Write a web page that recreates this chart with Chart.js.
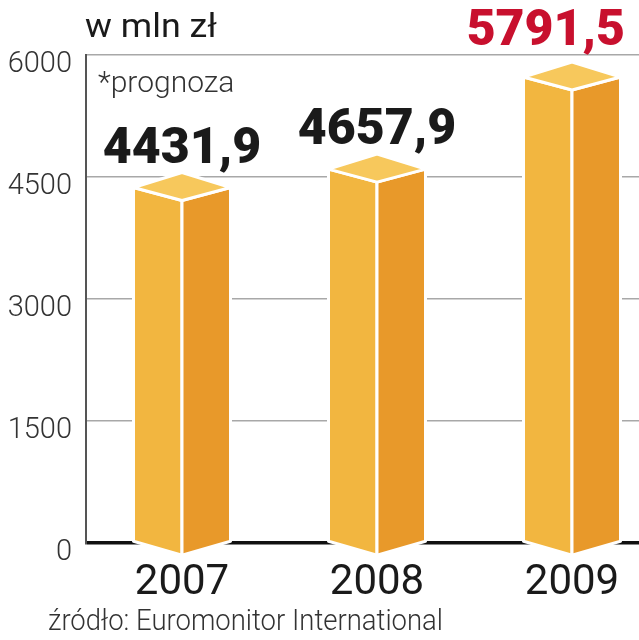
<!DOCTYPE html>
<html>
<head>
<meta charset="utf-8">
<script src="https://cdn.jsdelivr.net/npm/chart.js@4.4.1/dist/chart.umd.min.js"></script>
<style>
  html, body { margin: 0; padding: 0; background: #fff; }
  #wrap { width: 639px; height: 640px; }
</style>
</head>
<body>
<div id="wrap"><canvas id="chart"></canvas></div>
<script>
const years = ["2007", "2008", "2009"]
const values = [4431.9, 4657.9, 5791.5]
const valueLabels = ["4431,9", "4657,9", "5791,5"]
const isForecast = [false, false, true]
const yTicks = [0, 1500, 3000, 4500, 6000]

const unitText = "w mln zł"
const noteText = "*prognoza"
const sourceText = "źródło: Euromonitor International"

const FRONT = "#f2b640"
const SIDE = "#e8992a"
const TOP = "#f7c85c"
const INK = "#1a1a1a"
const RED = "#c8102e"

function poly(ctx, pts, fill) {
  ctx.beginPath()
  ctx.moveTo(pts[0][0], pts[0][1])
  for (let i = 1; i < pts.length; i++) ctx.lineTo(pts[i][0], pts[i][1])
  ctx.closePath()
  ctx.fillStyle = fill
  ctx.fill()
  ctx.stroke()
}

// squeeze or stretch a line of text to a given width
function fitText(ctx, txt, x, y, width) {
  const w = ctx.measureText(txt).width
  ctx.save()
  ctx.translate(x, y)
  ctx.scale(width / w, 1)
  ctx.fillText(txt, 0, 0)
  ctx.restore()
}

// draws every bar as a little prism, standing on its edge
const prismBars = {
  id: "prismBars",
  afterDatasetsDraw(chart) {
    const ctx = chart.ctx
    const meta = chart.getDatasetMeta(0)
    ctx.save()
    ctx.strokeStyle = "#fff"
    ctx.lineWidth = 3
    ctx.lineJoin = "round"
    meta.data.forEach((bar) => {
      const { x, y, base, width } = bar.getProps(["x", "y", "base", "width"], true)
      const h = width / 2
      poly(ctx, [[x - h, y + 5], [x, y + 18], [x, base + 14], [x - h, base]], FRONT)
      poly(ctx, [[x, y + 18], [x + h, y + 5], [x + h, base], [x, base + 14]], SIDE)
      poly(ctx, [[x - h, y + 5], [x, y - 10], [x + h, y + 5], [x, y + 18]], TOP)
    })
    ctx.restore()
  },
}

const texts = {
  id: "texts",
  afterDraw(chart) {
    const ctx = chart.ctx
    const area = chart.chartArea
    const meta = chart.getDatasetMeta(0)
    ctx.save()

    ctx.textBaseline = "alphabetic"
    ctx.textAlign = "center"
    ctx.font = "900 50px Roboto"
    meta.data.forEach((bar, i) => {
      const txt = valueLabels[i]
      const w = ctx.measureText(txt).width
      let by = bar.y - 20
      if (by - 36 < area.top + 10) by = area.top - 10
      let bx = Math.min(bar.x, chart.width - 14 - w / 2)
      ctx.fillStyle = isForecast[i] ? RED : INK
      ctx.fillText(txt, bx, by)
    })

    ctx.textAlign = "left"
    ctx.fillStyle = INK
    ctx.font = "400 33px Roboto"
    fitText(ctx, unitText, 85, 37, 132)

    ctx.fillStyle = "#333"
    ctx.font = "300 30px Roboto"
    ctx.fillText(noteText, area.left + 12, 92)

    ctx.font = "300 30px Roboto"
    fitText(ctx, sourceText, 48, 630, 395)

    ctx.restore()
  },
}

new Chart(document.getElementById("chart"), {
  type: "bar",
  data: {
    datasets: [
      {
        data: values.map((v, i) => ({ x: i, y: v })),
        backgroundColor: "rgba(0,0,0,0)",
        borderWidth: 0,
        barThickness: 97,
      },
    ],
  },
  options: {
    responsive: true,
    maintainAspectRatio: false,
    animation: false,
    layout: { padding: { top: 55, right: 0, bottom: 0, left: 0 } },
    plugins: {
      legend: { display: false },
      tooltip: { enabled: false },
    },
    scales: {
      x: {
        type: "linear",
        offset: false,
        min: -0.4923,
        max: 2.3436,
        afterBuildTicks: (s) => { s.ticks = years.map((_, i) => ({ value: i })) },
        afterFit: (s) => { s.height = 97 },
        grid: { display: false, drawTicks: false, offset: false },
        border: { display: false },
        ticks: {
          autoSkip: false,
          maxRotation: 0,
          padding: 15,
          color: INK,
          font: { family: "Roboto", size: 42, weight: "400" },
          callback: (v) => years[v],
        },
      },
      y: {
        min: 0,
        max: 6000,
        afterBuildTicks: (s) => { s.ticks = yTicks.map((v) => ({ value: v })) },
        afterFit: (s) => { s.width = 86 },
        grid: {
          drawTicks: false,
          color: (c) => (c.tick && c.tick.value === 0 ? "#111" : "#a8a8a8"),
          lineWidth: (c) => (c.tick && c.tick.value === 0 ? 3.5 : 1.5),
        },
        border: { display: true, color: "#555", width: 2 },
        ticks: {
          padding: 14,
          labelOffset: 10,
          color: "#333",
          font: { family: "Roboto", size: 29, weight: "300" },
          callback: (v) => String(v),
        },
      },
    },
  },
  plugins: [prismBars, texts],
})
</script>
</body>
</html>
